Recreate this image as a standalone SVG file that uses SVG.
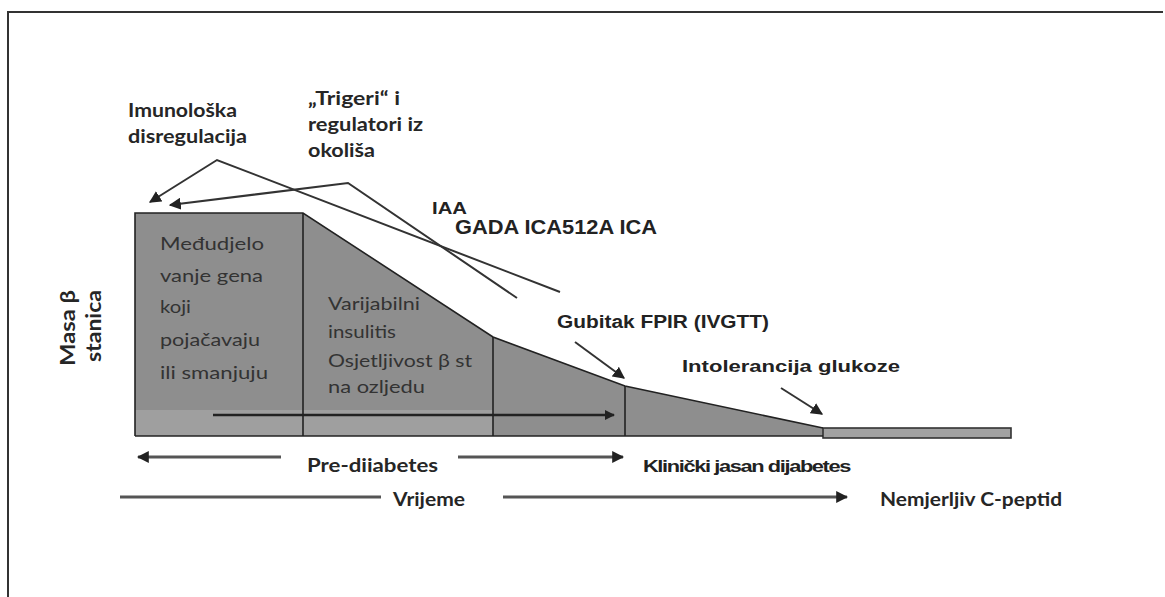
<svg xmlns="http://www.w3.org/2000/svg" width="1165" height="597" viewBox="0 0 1165 597">
  <defs>
    <marker id="ah" viewBox="0 0 10 10" refX="9" refY="5" markerWidth="6" markerHeight="6" orient="auto" markerUnits="strokeWidth">
      <path d="M0,0 L10,5 L0,10 Z" fill="#222"/>
    </marker>
    <marker id="ah2" viewBox="0 0 10 10" refX="9" refY="5" markerWidth="4" markerHeight="4" orient="auto" markerUnits="strokeWidth">
      <path d="M0,0 L10,5 L0,10 Z" fill="#222"/>
    </marker>
  </defs>
  <style>
    .cal { font-family: Lato, "Noto Sans", sans-serif; fill: #2b2b2b; }
    .calb { font-family: Lato, "Noto Sans", sans-serif; font-weight: bold; fill: #262626; }
    .inner { font-family: Lato, "Noto Sans", sans-serif; fill: #333; font-size: 18px; }
    .ar { font-family: "Liberation Sans", Arial, sans-serif; font-weight: bold; fill: #222; }
    .edge { stroke: #222; stroke-width: 1.6; fill: none; }
    .lbl { stroke: #333; stroke-width: 2; fill: none; }
    .tl { stroke: #555; stroke-width: 3; fill: none; }
  </style>

  <!-- frame -->
  <path d="M8,597 L8,12 L1163,12" fill="none" stroke="#333" stroke-width="2"/>

  <!-- beta cell mass shape -->
  <g id="mass-shape">
    <path d="M135,213 L303,213 L493,337 L625,386 L823,428 L823,436 L135,436 Z" fill="#8e8e8e"/>
    <rect x="135" y="410" width="358" height="26" fill="#a4a4a4" opacity="0.8"/>
    <rect x="823" y="428" width="188" height="10" fill="#a2a2a2" stroke="#333" stroke-width="1.6"/>
    <path class="edge" d="M135,436 L135,213 L303,213 L493,337 L625,386 L823,428"/>
    <path class="edge" d="M135,436 L823,436"/>
    <path class="edge" d="M303,213 L303,436 M493,337 L493,436 M625,386 L625,436"/>
  </g>

  <!-- Stage 1 text -->
  <g id="node-interaction">
    <text class="inner" x="160" y="250" textLength="104" lengthAdjust="spacingAndGlyphs">Međudjelo</text>
    <text class="inner" x="160" y="282" textLength="103" lengthAdjust="spacingAndGlyphs">vanje gena</text>
    <text class="inner" x="160" y="313" textLength="31" lengthAdjust="spacingAndGlyphs">koji</text>
    <text class="inner" x="160" y="346" textLength="100" lengthAdjust="spacingAndGlyphs">pojačavaju</text>
    <text class="inner" x="160" y="379" textLength="108" lengthAdjust="spacingAndGlyphs">ili smanjuju</text>
  </g>

  <!-- Stage 2 text -->
  <g id="node-insulitis">
    <text class="inner" x="328" y="310" textLength="92" lengthAdjust="spacingAndGlyphs">Varijabilni</text>
    <text class="inner" x="328" y="338" textLength="68" lengthAdjust="spacingAndGlyphs">insulitis</text>
    <text class="inner" x="328" y="367" textLength="144" lengthAdjust="spacingAndGlyphs">Osjetljivost β st</text>
    <text class="inner" x="328" y="393" textLength="97" lengthAdjust="spacingAndGlyphs">na ozljedu</text>
  </g>

  <!-- y-axis label -->
  <g id="node-yaxis">
    <text class="calb" font-size="21" transform="translate(75,366) rotate(-90)" textLength="76" lengthAdjust="spacingAndGlyphs">Masa β</text>
    <text class="calb" font-size="21" transform="translate(101,362) rotate(-90)" textLength="72" lengthAdjust="spacingAndGlyphs">stanica</text>
  </g>

  <!-- top labels -->
  <g id="node-imuno">
    <text class="calb" font-size="18" x="128" y="117" textLength="109" lengthAdjust="spacingAndGlyphs">Imunološka</text>
    <text class="calb" font-size="18" x="128" y="143" textLength="119" lengthAdjust="spacingAndGlyphs">disregulacija</text>
  </g>
  <g id="node-trigeri">
    <text class="calb" font-size="18" x="308" y="105" textLength="92" lengthAdjust="spacingAndGlyphs">„Trigeri“ i</text>
    <text class="calb" font-size="18" x="308" y="131" textLength="115" lengthAdjust="spacingAndGlyphs">regulatori iz</text>
    <text class="calb" font-size="18" x="308" y="157" textLength="67" lengthAdjust="spacingAndGlyphs">okoliša</text>
  </g>
  <g id="node-iaa">
    <text class="ar" font-size="17" x="432" y="214" textLength="35" lengthAdjust="spacingAndGlyphs">IAA</text>
  </g>
  <g id="node-gada">
    <text class="ar" font-size="20" x="455" y="234" textLength="202" lengthAdjust="spacingAndGlyphs">GADA ICA512A ICA</text>
  </g>
  <g id="node-fpir">
    <text class="ar" font-size="18" x="557" y="328" textLength="212" lengthAdjust="spacingAndGlyphs">Gubitak FPIR (IVGTT)</text>
  </g>
  <g id="node-intol">
    <text class="ar" font-size="17" x="682" y="372" textLength="218" lengthAdjust="spacingAndGlyphs">Intolerancija glukoze</text>
  </g>

  <!-- bottom labels -->
  <g id="node-prediabetes">
    <text class="calb" font-size="18" x="307" y="472" textLength="131" lengthAdjust="spacingAndGlyphs">Pre-diiabetes</text>
  </g>
  <g id="node-klinicki">
    <text class="ar" font-size="16" x="643" y="472" textLength="207" lengthAdjust="spacingAndGlyphs" letter-spacing="-1">Klinički jasan dijabetes</text>
  </g>
  <g id="node-vrijeme">
    <text class="calb" font-size="18" x="393" y="506" textLength="72" lengthAdjust="spacingAndGlyphs">Vrijeme</text>
  </g>
  <g id="node-cpeptid">
    <text class="calb" font-size="18" x="880" y="506" textLength="182" lengthAdjust="spacingAndGlyphs">Nemjerljiv C-peptid</text>
  </g>

  <!-- connectors -->
  <g id="connectors">
    <path class="lbl" d="M560,292 L217,160 L150,202" marker-end="url(#ah)"/>
    <path class="lbl" d="M517,298 L348,183 L170,205" marker-end="url(#ah)"/>
    <path class="lbl" d="M575,342 L624,378" marker-end="url(#ah)"/>
    <path class="lbl" d="M781,388 L822,414" marker-end="url(#ah)"/>
    <path stroke="#222" stroke-width="2.5" fill="none" d="M213,415 L614,415" marker-end="url(#ah2)"/>
    <path class="tl" d="M281,457 L138,457" marker-end="url(#ah2)"/>
    <path class="tl" d="M458,457 L623,457" marker-end="url(#ah2)"/>
    <path class="tl" d="M120,497 L381,497"/>
    <path class="tl" d="M503,497 L847,497" marker-end="url(#ah2)"/>
  </g>
</svg>
